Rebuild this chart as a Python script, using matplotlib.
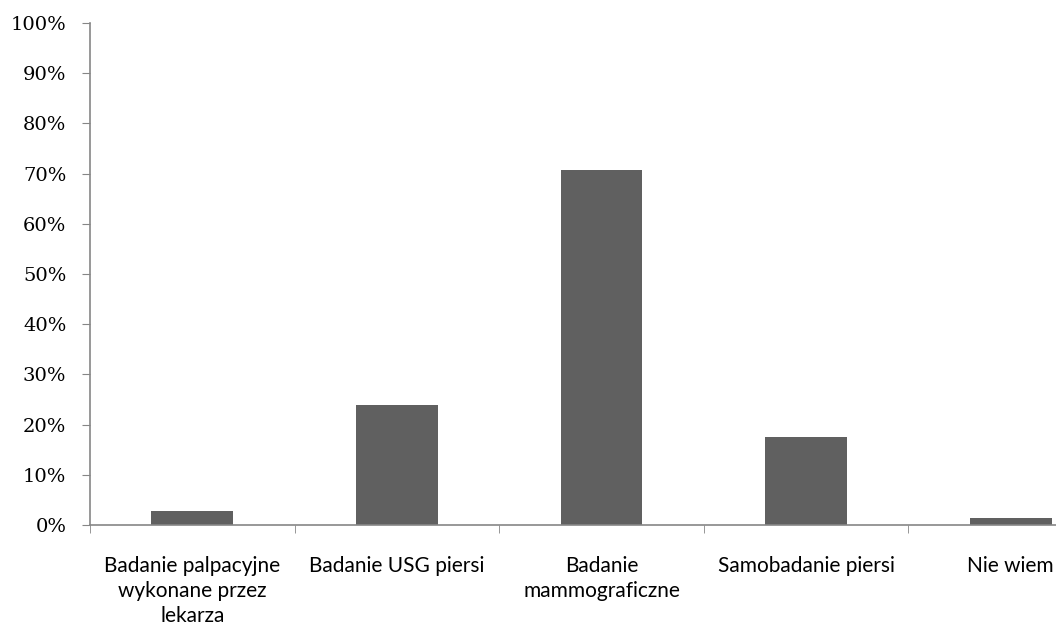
import matplotlib
matplotlib.use("Agg")
from matplotlib import pyplot as plt
from matplotlib.ticker import FixedLocator, PercentFormatter

categories = ["Badanie palpacyjne\nwykonane przez\nlekarza",
              "Badanie USG piersi",
              "Badanie\nmammograficzne",
              "Samobadanie piersi",
              "Nie wiem"]
values = [2.7, 23.9, 70.7, 17.5, 1.3]
y_ticks = list(range(0, 101, 10))

fig = plt.figure(figsize=(10.56, 6.32), dpi=100)
# the reference crops the last category at the right edge
ax = fig.add_axes([90 / 1056, 107 / 632, 1023 / 1056, 502 / 632])

x = list(range(len(values)))
ax.bar(x, values, width=0.4, color="#606060", zorder=2)

ax.set_xlim(-0.5, len(values) - 0.5)
ax.set_ylim(0, 100)

ax.set_yticks(y_ticks)
ax.yaxis.set_major_formatter(PercentFormatter(decimals=0))
for lab in ax.get_yticklabels():
    lab.set_fontfamily("DejaVu Serif")
    lab.set_fontsize(14)
    lab.set_color("#000000")

ax.set_xticks(x)
ax.set_xticklabels(categories, fontsize=15, family="Lato", linespacing=1.32,
                   va="top", color="#000000")
ax.xaxis.set_minor_locator(FixedLocator([i - 0.5 for i in range(len(values) + 1)]))
ax.tick_params(axis="x", which="major", length=0, pad=22)
ax.tick_params(axis="x", which="minor", length=6, color="#868686", direction="out")
ax.tick_params(axis="y", length=6, color="#868686", pad=11)

for side in ("top", "right"):
    ax.spines[side].set_visible(False)
for side in ("left", "bottom"):
    ax.spines[side].set_color("#868686")
    ax.spines[side].set_linewidth(1.2)

fig.savefig("out.png", dpi=100)
